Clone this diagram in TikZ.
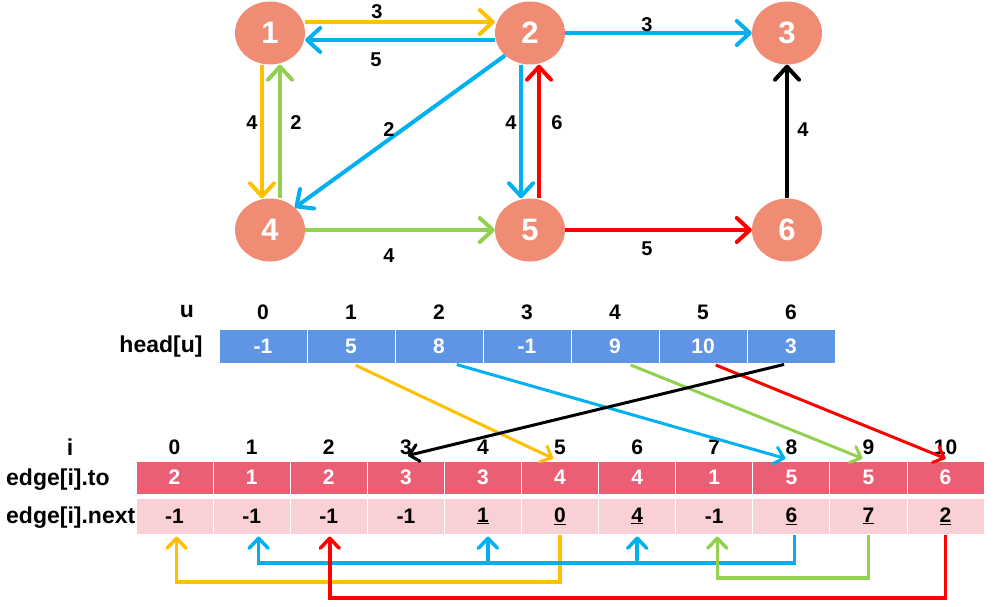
\documentclass[tikz,border=0pt]{standalone}
\usepackage{fontspec}
\setmainfont{Liberation Sans}
\usetikzlibrary{arrows.meta,shapes.geometric}
\definecolor{nodefill}{RGB}{240,139,116}
\definecolor{cyel}{RGB}{255,192,0}
\definecolor{cblu}{RGB}{0,176,240}
\definecolor{cgrn}{RGB}{146,208,80}
\definecolor{cred}{RGB}{255,0,0}
\definecolor{headblue}{RGB}{95,149,228}
\definecolor{torow}{RGB}{235,95,117}
\definecolor{nextrow}{RGB}{248,208,214}
\begin{document}
\begin{tikzpicture}[x=1pt,y=-1pt,
  gnode/.style={ellipse, fill=nodefill, minimum width=70pt, minimum height=63pt, inner sep=0pt, text=white, font=\fontsize{31}{31}\selectfont\bfseries},
  glbl/.style={font=\fontsize{20}{20}\selectfont\bfseries, inner sep=0pt},
  garrow/.style={line width=4pt, -{Straight Barb[length=13pt,width=24pt,round]}},
  num/.style={font=\fontsize{21}{21}\selectfont\bfseries, inner sep=0pt},
  rowlbl/.style={font=\fontsize{23}{23}\selectfont\bfseries, inner sep=0pt},
  hcell/.style={rectangle, fill=headblue, draw=white, line width=1pt, minimum width=88pt, minimum height=34pt, inner sep=0pt, text=white, font=\fontsize{21}{21}\selectfont\bfseries},
  tcell/.style={rectangle, fill=torow, draw=white, line width=1pt, minimum width=77.1pt, minimum height=33pt, inner sep=0pt, text=white, font=\fontsize{21}{21}\selectfont\bfseries},
  ncell/.style={rectangle, fill=nextrow, draw=white, line width=1pt, minimum width=77.1pt, minimum height=36pt, inner sep=0pt, text=black, font=\fontsize{21}{21}\selectfont\bfseries},
  darrow/.style={line width=3pt, -{Straight Barb[length=9pt,width=17pt,round]}},
  barrow/.style={line width=3.5pt, -{Straight Barb[length=10pt,width=19pt,round]}},
  bline/.style={line width=3.5pt}
]
\useasboundingbox (0,0) rectangle (1004,607);

% graph nodes
\node[gnode] (n1) at (270,33) {1};
\node[gnode] (n2) at (530,33) {2};
\node[gnode] (n3) at (787,33) {3};
\node[gnode] (n4) at (270,230) {4};
\node[gnode] (n5) at (530,230) {5};
\node[gnode] (n6) at (787,230) {6};

% graph edges
\draw[garrow,cyel] ([yshift=11pt]n1.east) -- ([yshift=11pt]n2.west);
\draw[garrow,cblu] ([yshift=-7pt]n2.west) -- ([yshift=-7pt]n1.east);
\draw[garrow,cblu] (n2.east) -- (n3.west);
\draw[garrow,cyel] ([xshift=-8pt]n1.south) -- ([xshift=-8pt]n4.north);
\draw[garrow,cgrn] ([xshift=10pt]n4.north) -- ([xshift=10pt]n1.south);
\draw[garrow,cblu] (n2.south west) -- (n4.north east);
\draw[garrow,cblu] ([xshift=-9pt]n2.south) -- ([xshift=-9pt]n5.north);
\draw[garrow,cred] ([xshift=9pt]n5.north) -- ([xshift=9pt]n2.south);
\draw[garrow,cgrn] (n4.east) -- (n5.west);
\draw[garrow,cred] (n5.east) -- (n6.west);
\draw[garrow,black] (n6.north) -- (n3.south);

% edge labels
\node[glbl] (l12) at (377,12) {3};
\node[glbl] (l21) at (376,60) {5};
\node[glbl] (l23) at (647,25) {3};
\node[glbl] (l14) at (252,123) {4};
\node[glbl] (l41) at (296,123) {2};
\node[glbl] (l24) at (389,130) {2};
\node[glbl] (l25) at (511,123) {4};
\node[glbl] (l52) at (557,123) {6};
\node[glbl] (l63) at (803,130) {4};
\node[glbl] (l45) at (389,256) {4};
\node[glbl] (l56) at (647,249) {5};

% head table
\node[rowlbl] (lu) at (187,312) {u};
\node[rowlbl] (lhead) at (161,347) {head[u]};
\foreach \v [count=\k from 0] in {-1,5,8,-1,9,10,3} {
  \node[hcell] (h\k) at (263+88*\k,346) {\v};
  \node[num] (hu\k) at (263+88*\k,312) {\k};
}

% edge table
\node[rowlbl] (li) at (70,447) {i};
\node[rowlbl, anchor=west] (lto) at (6,480) {edge[i].to};
\node[rowlbl, anchor=west] (lnext) at (6,518) {edge[i].next};
\foreach \v [count=\k from 0] in {2,1,2,3,3,4,4,1,5,5,6} {
  \node[tcell] (t\k) at (174.55+77.1*\k,477.5) {\v};
  \node[num] (ei\k) at (174.55+77.1*\k,447) {\k};
}
\foreach \v [count=\k from 0] in {-1,-1,-1,-1,\underline{1},\underline{0},\underline{4},-1,\underline{6},\underline{7},\underline{2}} {
  \node[ncell] (x\k) at (174.55+77.1*\k,516) {\v};
}

% head -> edge arrows
\draw[darrow,cyel,shorten <=4pt] ([xshift=1pt]h1.south) -- ([xshift=-7pt,yshift=2pt]t5.north);
\draw[darrow,cblu,shorten <=4pt] ([xshift=14pt]h2.south) -- ([xshift=-6pt,yshift=2pt]t8.north);
\draw[darrow,cgrn,shorten <=4pt] ([xshift=12pt]h4.south) -- ([xshift=-6pt,yshift=2pt]t9.north);
\draw[darrow,cred,shorten <=4pt] ([xshift=9pt]h5.south) -- ([yshift=2pt]t10.north);
\draw[darrow,black,shorten <=4pt] ([xshift=-3pt]h6.south) -- ([xshift=2pt,yshift=5pt]t3.north);

% next links
\coordinate (yb) at (0,582);
\coordinate (bb) at (0,563);
\coordinate (gb) at (0,578);
\coordinate (rb) at (0,598);
\draw[barrow,cyel] (x5.south) -- (x5.south |- yb) -| ([xshift=2pt,yshift=-2pt]x0.south);
\draw[bline,cblu] ([xshift=3pt]x8.south) -- ([xshift=3pt]x8.south |- bb) -- (x6.south |- bb);
\draw[barrow,cblu] (x6.south |- bb) -- ([yshift=-2pt]x6.south);
\draw[bline,cblu] (x6.south |- bb) -- ([xshift=5pt]x4.south |- bb);
\draw[barrow,cblu] ([xshift=5pt]x4.south |- bb) -- ([xshift=5pt,yshift=-2pt]x4.south);
\draw[barrow,cblu] ([xshift=5pt]x4.south |- bb) -| ([xshift=7pt,yshift=-2pt]x1.south);
\draw[barrow,cgrn] (x9.south) -- (x9.south |- gb) -| ([xshift=3pt,yshift=-2pt]x7.south);
\draw[barrow,cred] (x10.south) -- (x10.south |- rb) -| ([xshift=1pt,yshift=-2pt]x2.south);
\end{tikzpicture}
\end{document}
